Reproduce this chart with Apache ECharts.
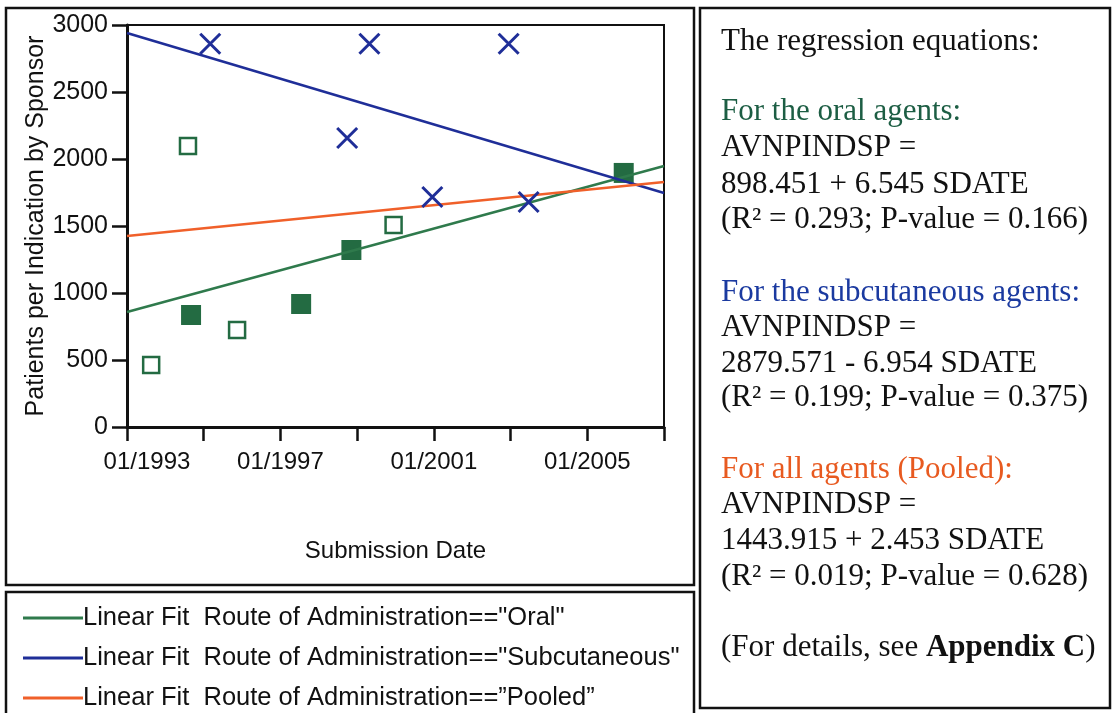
<!DOCTYPE html>
<html lang="en">
<head>
    <meta charset="UTF-8">
    <title>Patients per Indication by Sponsor</title>
    <script src="https://cdn.jsdelivr.net/npm/echarts@6.0.0/dist/echarts.min.js"></script>
    <style>
        html, body { margin: 0; padding: 0; background: #fff; }
        #chart { width: 1115px; height: 713px; }
    </style>
</head>
<body>
<div id="chart"></div>
<script>
    // submission dates as decimal years, values = patients per indication by sponsor
    var oralOpenDates = [1993.63, 1994.59, 1995.87, 1999.95];
    var oralOpenValues = [463, 2097, 724, 1507];
    var oralFilledDates = [1994.67, 1997.54, 1998.85, 2005.95];
    var oralFilledValues = [836, 918, 1321, 1896];
    var subcutDates = [1995.17, 1998.74, 1999.32, 2000.96, 2002.95, 2003.47];
    var subcutValues = [2860, 2157, 2860, 1716, 2860, 1679];

    // fitted lines, read at the two ends of the axis
    var fitDates = [1993, 2007];
    var oralFit = [858, 1948];
    var subcutFit = [2940, 1746];
    var pooledFit = [1425, 1828];

    var fitNames = [
        'Linear Fit  Route of Administration=="Oral"',
        'Linear Fit  Route of Administration=="Subcutaneous"',
        'Linear Fit  Route of Administration==\u201dPooled\u201d'
    ];

    var GREEN = '#2f7a4c', MARK = '#236b42', BLUE = '#1f2e98', ORANGE = '#f0602a';

    function pairs(xs, ys) {
        return xs.map(function (x, i) { return [x, ys[i]]; });
    }

    // the text panel on the right
    var noteLines = [
        { t: 'The regression equations:', c: '#111', y: 42 },
        { t: 'For the oral agents:', c: '#1d5e44', y: 112 },
        { t: 'AVNPINDSP =', c: '#111', y: 148 },
        { t: '898.451 + 6.545 SDATE', c: '#111', y: 185 },
        { t: '(R\u00b2 = 0.293; P-value = 0.166)', c: '#111', y: 220 },
        { t: 'For the subcutaneous agents:', c: '#1b3aa0', y: 293 },
        { t: 'AVNPINDSP =', c: '#111', y: 328 },
        { t: '2879.571 - 6.954 SDATE', c: '#111', y: 364 },
        { t: '(R\u00b2 = 0.199; P-value = 0.375)', c: '#111', y: 398 },
        { t: 'For all agents (Pooled):', c: '#e85a20', y: 470 },
        { t: 'AVNPINDSP =', c: '#111', y: 505 },
        { t: '1443.915 + 2.453 SDATE', c: '#111', y: 541 },
        { t: '(R\u00b2 = 0.019; P-value = 0.628)', c: '#111', y: 577 },
        { t: '(For details, see {b|Appendix C})', c: '#111', y: 648 }
    ];

    var graphics = [
        { type: 'rect', shape: { x: 6, y: 8, width: 688, height: 577 },
          style: { fill: 'none', stroke: '#111', lineWidth: 2.5 }, silent: true },
        { type: 'rect', shape: { x: 6, y: 592, width: 688, height: 130 },
          style: { fill: 'none', stroke: '#111', lineWidth: 2.5 }, silent: true },
        { type: 'rect', shape: { x: 700, y: 8, width: 410, height: 700 },
          style: { fill: 'none', stroke: '#111', lineWidth: 2.5 }, silent: true }
    ];
    noteLines.forEach(function (l) {
        graphics.push({
            type: 'text', silent: true,
            style: {
                text: l.t, x: 721, y: l.y,
                fill: l.c, fontFamily: 'Liberation Serif', fontSize: 31,
                verticalAlign: 'middle',
                rich: { b: { fontWeight: 'bold', fontFamily: 'Liberation Serif', fontSize: 31, fill: l.c } }
            }
        });
    });

    var myChart = echarts.init(document.getElementById('chart'));
    var axisFont = { fontFamily: 'Liberation Sans', fontSize: 24, color: '#111' };

    var option = {
        backgroundColor: '#fff',
        animation: false,
        grid: { left: 127, right: 451, top: 25, bottom: 286, show: true, borderColor: '#111', borderWidth: 2 },
        xAxis: {
            type: 'value', min: 1993, max: 2007, interval: 2,
            name: 'Submission Date', nameLocation: 'middle', nameGap: 112,
            nameTextStyle: { fontFamily: 'Liberation Sans', fontSize: 24, color: '#111' },
            axisLine: { lineStyle: { color: '#111', width: 3 } },
            axisTick: { length: 14, lineStyle: { color: '#111', width: 2.5 } },
            axisLabel: Object.assign({
                margin: 23,
                formatter: function (v) {
                    if ((v - 1993) % 4 !== 0) return '';
                    return v === 1993 ? '{first|01/' + v + '}' : '01/' + v;
                },
                rich: { first: { fontFamily: 'Liberation Sans', fontSize: 24, color: '#111', padding: [0, 0, 0, 40] } }
            }, axisFont),
            splitLine: { show: false }
        },
        yAxis: {
            type: 'value', min: 0, max: 3000, interval: 500,
            name: 'Patients per Indication by Sponsor', nameLocation: 'middle', nameGap: 78,
            nameTextStyle: { fontFamily: 'Liberation Sans', fontSize: 25, color: '#111' },
            axisLine: { show: true, lineStyle: { color: '#111', width: 3 } },
            axisTick: { show: true, length: 15, lineStyle: { color: '#111', width: 2.5 } },
            axisLabel: Object.assign({
                margin: 19,
                formatter: function (v) { return String(v); }
            }, axisFont, { fontSize: 25 }),
            splitLine: { show: false }
        },
        legend: {
            data: fitNames,
            orient: 'vertical', left: 23, top: 605,
            icon: 'rect', itemWidth: 60, itemHeight: 3, itemGap: 14,
            padding: 0,
            textStyle: { fontFamily: 'Liberation Sans', fontSize: 25.5, color: '#111', lineHeight: 26, padding: [0, 0, 0, -5] }
        },
        series: [
            { name: fitNames[0], type: 'line', data: pairs(fitDates, oralFit), showSymbol: false,
              lineStyle: { color: GREEN, width: 2.5 }, itemStyle: { color: GREEN }, z: 3 },
            { name: fitNames[1], type: 'line', data: pairs(fitDates, subcutFit), showSymbol: false,
              lineStyle: { color: BLUE, width: 2.5 }, itemStyle: { color: BLUE }, z: 3 },
            { name: fitNames[2], type: 'line', data: pairs(fitDates, pooledFit), showSymbol: false,
              lineStyle: { color: ORANGE, width: 2.5 }, itemStyle: { color: ORANGE }, z: 3 },
            { name: 'Oral (open)', type: 'scatter', data: pairs(oralOpenDates, oralOpenValues),
              symbol: 'rect', symbolSize: 16,
              itemStyle: { color: '#fff', borderColor: MARK, borderWidth: 2.5, opacity: 1 }, z: 4 },
            { name: 'Oral (filled)', type: 'scatter', data: pairs(oralFilledDates, oralFilledValues),
              symbol: 'rect', symbolSize: 20,
              itemStyle: { color: MARK, opacity: 1 }, z: 2 },
            { name: 'Subcutaneous', type: 'scatter', data: pairs(subcutDates, subcutValues),
              symbol: 'path://M0,0L10,10M10,0L0,10', symbolSize: 20,
              itemStyle: { color: 'none', borderColor: BLUE, borderWidth: 3, opacity: 1 }, z: 4 }
        ],
        graphic: graphics
    };

    myChart.setOption(option);
</script>
</body>
</html>
